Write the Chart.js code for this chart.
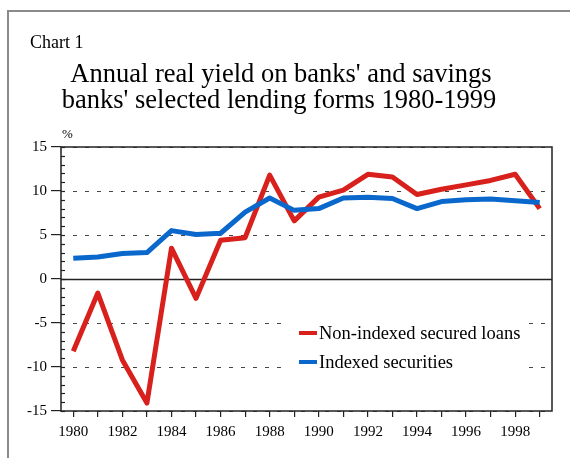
<!DOCTYPE html>
<html>
<head>
<meta charset="utf-8">
<script src="https://cdn.jsdelivr.net/npm/chart.js@4/dist/chart.umd.min.js"></script>
<style>
  html, body { margin: 0; padding: 0; background: #fff; }
  #wrap { width: 570px; height: 458px; position: relative; }
</style>
</head>
<body>
<div id="wrap"><canvas id="chart" width="570" height="458"></canvas></div>
<script>
// chart values
const years = ["1980", "1981", "1982", "1983", "1984", "1985", "1986", "1987", "1988", "1989",
               "1990", "1991", "1992", "1993", "1994", "1995", "1996", "1997", "1998", "1999"];
const nonIndexedLoans = [-8.2, -1.6, -9.2, -14.1, 3.5, -2.2, 4.4, 4.7, 11.8, 6.6,
                         9.3, 10.1, 11.9, 11.6, 9.6, 10.2, 10.7, 11.2, 11.9, 8.0];
const indexedSecurities = [2.35, 2.5, 2.9, 3.0, 5.5, 5.05, 5.2, 7.6, 9.2, 7.8,
                           8.0, 9.2, 9.3, 9.15, 8.0, 8.8, 9.0, 9.1, 8.9, 8.7];
const yTicks = [-15, -10, -5, 0, 5, 10, 15];

const RED = "#d8201c";
const BLUE = "#0a68cc";
const SERIF = "'Liberation Serif', 'Times New Roman', serif";

// title, frame, grid lines, minor ticks and legend
const decorations = {
  id: "decorations",
  beforeDatasetsDraw(chart) {
    const { ctx, chartArea: a, scales: { y } } = chart;
    ctx.save();
    // dashed grid, solid zero line
    yTicks.forEach(v => {
      const py = Math.round(y.getPixelForValue(v)) + 0.5;
      ctx.beginPath();
      if (v === 0) {
        ctx.setLineDash([]);
        ctx.strokeStyle = "#222";
        ctx.lineWidth = 1.3;
      } else {
        ctx.setLineDash([4, 8]);
        ctx.strokeStyle = "#444";
        ctx.lineWidth = 1.2;
      }
      ctx.moveTo(a.left, py);
      ctx.lineTo(a.right, py);
      ctx.stroke();
    });
    ctx.setLineDash([]);
    // minor ticks inside the left axis
    ctx.strokeStyle = "#222";
    ctx.lineWidth = 1.2;
    for (let v = -15; v <= 15; v++) {
      const py = Math.round(y.getPixelForValue(v)) + 0.5;
      ctx.beginPath();
      ctx.moveTo(a.left, py);
      ctx.lineTo(a.left + 4, py);
      ctx.stroke();
    }
    // legend box hides the grid behind it
    ctx.fillStyle = "#fff";
    ctx.fillRect(283, 314, 244, 62);
    ctx.restore();
  },
  afterDraw(chart) {
    const { ctx, chartArea: a } = chart;
    ctx.save();
    // plot frame
    ctx.strokeStyle = "#222";
    ctx.lineWidth = 1.5;
    ctx.strokeRect(a.left, a.top, a.right - a.left, a.bottom - a.top);
    // outer frame (left and top only visible)
    ctx.strokeStyle = "#8a8a8a";
    ctx.lineWidth = 2;
    ctx.beginPath();
    ctx.moveTo(8, 458);
    ctx.lineTo(8, 11);
    ctx.lineTo(570, 11);
    ctx.stroke();
    // texts
    ctx.fillStyle = "#000";
    ctx.textBaseline = "alphabetic";
    ctx.textAlign = "left";
    ctx.font = "18px " + SERIF;
    ctx.fillText("Chart 1", 30, 48);
    ctx.textAlign = "center";
    ctx.font = "26.5px " + SERIF;
    ctx.fillText("Annual real yield on banks' and savings", 281, 82);
    ctx.fillText("banks' selected lending forms 1980-1999", 279, 108);
    ctx.textAlign = "left";
    ctx.font = "13px " + SERIF;
    ctx.fillText("%", 62, 138);
    // legend
    const items = [["Non-indexed secured loans", RED, 333], ["Indexed securities", BLUE, 362]];
    ctx.font = "18.5px " + SERIF;
    ctx.textBaseline = "middle";
    items.forEach(([label, color, ly]) => {
      ctx.fillStyle = color;
      ctx.fillRect(299, ly - 2, 18, 4);
      ctx.fillStyle = "#000";
      ctx.fillText(label, 319, ly + 1);
    });
    ctx.restore();
  }
};

new Chart(document.getElementById("chart"), {
  type: "line",
  data: {
    labels: years,
    datasets: [
      {
        label: "Indexed securities",
        data: indexedSecurities,
        borderColor: BLUE,
        borderWidth: 5,
        pointRadius: 0,
        tension: 0,
        borderJoinStyle: "round",
        borderCapStyle: "butt"
      },
      {
        label: "Non-indexed secured loans",
        data: nonIndexedLoans,
        borderColor: RED,
        borderWidth: 5,
        pointRadius: 0,
        tension: 0,
        borderJoinStyle: "round",
        borderCapStyle: "butt"
      }
    ]
  },
  options: {
    responsive: false,
    animation: false,
    layout: { padding: { top: 147, left: 0, right: 18, bottom: 0 } },
    plugins: { legend: { display: false }, tooltip: { enabled: false }, title: { display: false } },
    scales: {
      x: {
        offset: true,
        grid: { offset: false, drawOnChartArea: false, tickLength: 6, color: "#222", lineWidth: 1.2 },
        border: { display: false },
        ticks: {
          autoSkip: false,
          maxRotation: 0,
          padding: 6,
          color: "#000",
          font: { family: SERIF, size: 15 },
          callback: (v, i) => (i % 2 === 0 ? years[i] : "")
        },
        afterFit: s => { s.height = 47; }
      },
      y: {
        min: -15,
        max: 15,
        afterBuildTicks: s => { s.ticks = yTicks.map(v => ({ value: v })); },
        grid: { drawOnChartArea: false, tickLength: 10, color: "#222", lineWidth: 1.2 },
        border: { display: false },
        ticks: {
          padding: 4,
          color: "#000",
          font: { family: SERIF, size: 15 }
        },
        afterFit: s => { s.width = 61; }
      }
    }
  },
  plugins: [decorations]
});
</script>
</body>
</html>
